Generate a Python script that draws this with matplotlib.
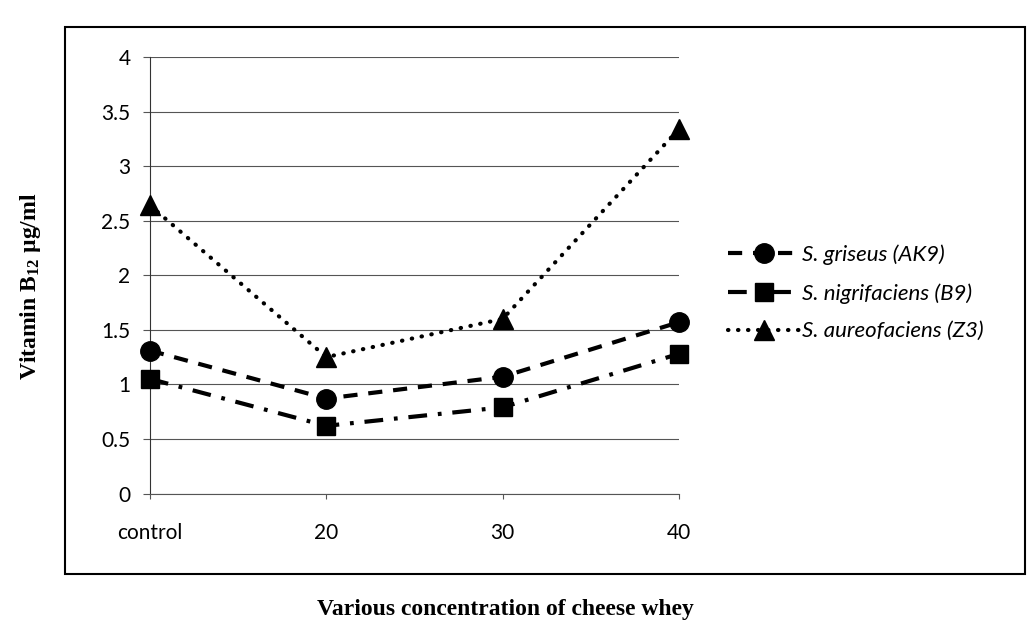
import matplotlib
matplotlib.use("Agg")
import matplotlib.pyplot as plt
from matplotlib.patches import Rectangle

categories = ["control", "20", "30", "40"]
griseus = [1.31, 0.87, 1.07, 1.57]
nigrifaciens = [1.05, 0.62, 0.79, 1.28]
aureofaciens = [2.64, 1.25, 1.60, 3.34]
series_labels = ["S. griseus (AK9)", "S. nigrifaciens (B9)", "S. aureofaciens (Z3)"]
y_ticks = [0, 0.5, 1, 1.5, 2, 2.5, 3, 3.5, 4]
y_tick_labels = ["0", "0.5", "1", "1.5", "2", "2.5", "3", "3.5", "4"]

plt.rcParams['mathtext.fontset'] = 'custom'
plt.rcParams['mathtext.rm'] = 'Liberation Serif:bold'
plt.rcParams['mathtext.bf'] = 'Liberation Serif:bold'
plt.rcParams['mathtext.it'] = 'Liberation Serif:bold'

W, H = 1028, 632
fig = plt.figure(figsize=(W / 100, H / 100), dpi=100)
fig.patch.set_facecolor("white")

# outer chart frame
fig.patches.append(Rectangle((65 / W, 1 - 574 / H), (1025 - 65) / W, (574 - 27) / H,
                             transform=fig.transFigure, fill=False,
                             edgecolor="black", linewidth=1.5, zorder=0))

ax = fig.add_axes([150 / W, 1 - 493.5 / H, (679 - 150) / W, (493.5 - 57) / H])
x = list(range(len(categories)))

lw = 3.0
ax.plot(x, griseus, color="black", lw=lw, linestyle=(0, (3.4, 2.6)),
        marker="o", markersize=14, label=series_labels[0], clip_on=False, zorder=3)
ax.plot(x, nigrifaciens, color="black", lw=lw, linestyle=(0, (4.5, 2.6, 0.9, 2.6)),
        marker="s", markersize=13, label=series_labels[1], clip_on=False, zorder=3)
ax.plot(x, aureofaciens, color="black", lw=lw, linestyle=(0, (0.1, 2.3)),
        dash_capstyle="round", marker="^", markersize=15, label=series_labels[2],
        clip_on=False, zorder=3)

ax.set_xlim(0, 3)
ax.set_ylim(0, 4)
ax.set_yticks(y_ticks)
ax.set_yticklabels(y_tick_labels)
ax.set_xticks(x)
ax.set_xticklabels(categories)
ax.yaxis.grid(True, color="#555555", linewidth=0.8)
ax.set_axisbelow(True)
for s in ["top", "right"]:
    ax.spines[s].set_visible(False)
ax.spines["left"].set_color("#333333")
ax.spines["left"].set_linewidth(0.8)
ax.spines["bottom"].set_color("#555555")
ax.spines["bottom"].set_linewidth(0.8)

ax.tick_params(axis="y", direction="out", length=5, width=0.8, color="#555555", pad=9)
ax.tick_params(axis="x", direction="out", length=3.5, width=0.8, color="#555555", pad=18)
for lab in ax.get_xticklabels() + ax.get_yticklabels():
    lab.set_fontfamily("Lato")
    lab.set_fontsize(15)

fig.text(31 / W, 1 - 286 / H, r"Vitamin B$_{12}$ µg/ml", rotation=90,
         ha="center", va="center", family="Liberation Serif", weight="bold", fontsize=17)
fig.text(505 / W, 1 - 610 / H, "Various concentration of cheese whey",
         ha="center", va="center", family="Liberation Serif", weight="bold", fontsize=17)

handles, labels = ax.get_legend_handles_labels()
leg = fig.legend(handles, labels, loc="center left",
                 bbox_to_anchor=(728 / W, 1 - 293 / H), bbox_transform=fig.transFigure,
                 frameon=False, handlelength=3.2, handletextpad=0.12,
                 labelspacing=0.8, borderpad=0, borderaxespad=0,
                 prop=dict(family="Lato", style="italic", size=16))

fig.savefig("out.png", dpi=100)
